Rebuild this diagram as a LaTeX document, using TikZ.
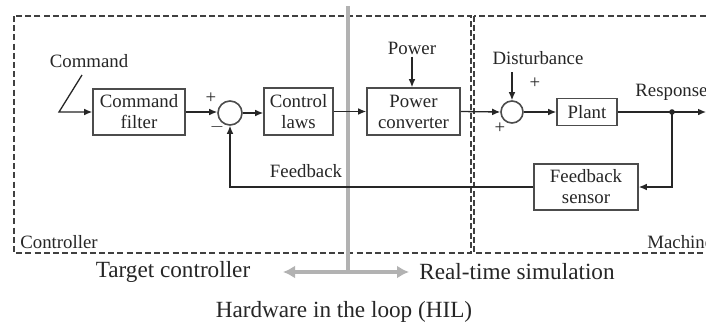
\documentclass[tikz,border=0pt]{standalone}
\usepackage{fontspec}
\setmainfont{Liberation Serif}
\usetikzlibrary{arrows.meta}
\begin{document}
\begin{tikzpicture}[x=0.5pt,y=-0.5pt,
  lbl/.style={font=\fontsize{9.4}{11}\selectfont, inner sep=1pt, text=black!85},
  biglbl/.style={font=\fontsize{11.6}{13}\selectfont, inner sep=1pt, text=black!85},
  block/.style={draw=black!70, line width=0.8pt, align=center, inner sep=0pt,
    font=\fontsize{9.4}{10.5}\selectfont, text=black!85},
  sumnode/.style={draw=black!70, line width=0.8pt, circle, inner sep=0pt},
  sig/.style={draw=black!85, line width=0.65pt},
  arr/.style={sig, -{Latex[length=4pt,width=3.4pt]}},
  region/.style={draw=black!75, line width=0.65pt, dash pattern=on 3pt off 1.6pt},
  hil/.style={draw=black!30, line width=2pt}
]
\useasboundingbox (0,0) rectangle (706,322);
\fill[white] (0,0) rectangle (706,322);
\clip (0,0) rectangle (706,322);

% controller and machine regions
\draw[region] (14,16) rectangle (471,253);
\draw[region] (474,16) rectangle (730,253);
\node[lbl, anchor=west] (ctrl) at (18,242) {Controller};
\node[lbl, anchor=west] (mach) at (645,242) {Machine};

% hardware-in-the-loop split
\coordinate (hiltop) at (348,6);
\coordinate (hilbot) at (348,272);
\coordinate (hilL) at (283,272);
\coordinate (hilR) at (409,272);
\draw[hil] (hiltop) -- (hilbot);
\draw[hil, line width=1.8pt, {Latex[length=6pt,width=6.5pt]}-{Latex[length=6pt,width=6.5pt]}] (hilL) -- (hilR);
\node[biglbl] (tc) at (173,272) {Target controller};
\node[biglbl] (rts) at (517,272) {Real-time simulation};
\node[biglbl] (hl) at (344,312) {Hardware in the loop (HIL)};

% blocks
\node[block, minimum width=46pt, minimum height=23pt] (cf) at (139,112) {Command\\filter};
\node[sumnode, minimum size=12pt] (s1) at (230,113) {};
\node[block, minimum width=34.5pt, minimum height=23.5pt] (cl) at (298.5,111.5) {Control\\laws};
\node[block, minimum width=46.5pt, minimum height=23.5pt] (pc) at (413.5,111.5) {Power\\converter};
\node[sumnode, minimum size=11pt] (s2) at (512,112) {};
\node[block, minimum width=30pt, minimum height=13.5pt] (pl) at (587,112) {Plant};
\node[block, minimum width=52pt, minimum height=23pt] (fs) at (586,187) {Feedback\\sensor};
\coordinate (j) at (672,112);
\coordinate (out) at (706,112);

% command input
\node[lbl] (cmd) at (89,61) {Command};
\coordinate (cmdtop) at (82,75);
\coordinate (cmdbend) at (59,112);
\draw[arr] (cmdtop) -- (cmdbend) -- (cf.west);

% forward path
\draw[arr] (cf.east) -- (s1.west |- cf.east);
\draw[arr] (s1.east) -- (cl.west |- s1.east);
\draw[arr] (cl.east) -- (pc.west);
\draw[arr] (pc.east) -- (s2.west);
\draw[arr] (s2.east) -- (pl.west);
\draw[sig] (pl.east) -- (j);
\draw[arr] (j) -- (out);
\fill[black!85] (j) circle (1.4pt);
\node[lbl, anchor=west] (resp) at (633,92) {Response};

% power and disturbance inputs
\node[lbl] (pwr) at (412,48) {Power};
\draw[arr] (pwr.south) -- (pc.north -| pwr.south);
\node[lbl] (dist) at (538,58) {Disturbance};
\coordinate (distin) at (512,72);
\draw[arr] (distin) -- (s2.north);

% feedback path
\draw[arr] (j) |- (fs.east);
\draw[arr] (fs.west) -| (s1.south);
\node[lbl] (fbl) at (306,171) {Feedback};

% summing signs
\node[lbl] (p1) at (211,98) {+};
\node[lbl] (m1) at (217,127) {$-$};
\node[lbl] (p2) at (535,83) {+};
\node[lbl] (p3) at (500,128) {+};
\end{tikzpicture}
\end{document}
